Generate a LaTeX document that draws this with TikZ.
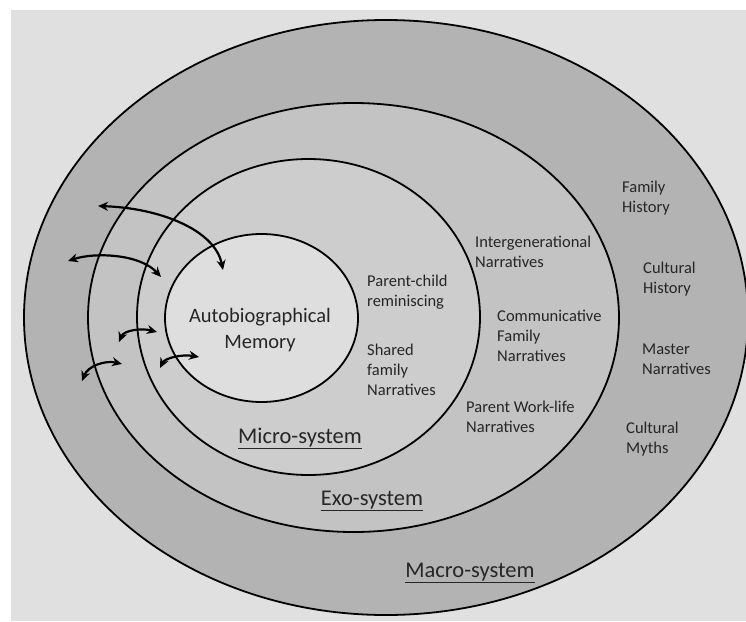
\documentclass[tikz,border=0pt]{standalone}
\usepackage{fontspec}
\setmainfont{Carlito}
\usetikzlibrary{arrows.meta}

\definecolor{bggrey}{HTML}{E0E0E0}
\definecolor{macrogrey}{HTML}{B3B3B3}
\definecolor{exogrey}{HTML}{C3C3C3}
\definecolor{microgrey}{HTML}{CDCDCD}
\definecolor{autogrey}{HTML}{DEDEDE}
\definecolor{txtgrey}{HTML}{262626}

\begin{document}
\begin{tikzpicture}[x=1pt,y=-1pt,
  ring/.style={draw=black, line width=1.8pt},
  lbl/.style={anchor=west, align=left, inner sep=0pt, text=txtgrey,
    font=\fontsize{16.5}{20}\selectfont},
  sysname/.style={anchor=base, inner sep=0pt, text=txtgrey,
    font=\fontsize{22.5}{27}\selectfont},
  link/.style={line width=2.2pt,
    {Stealth[length=10pt,width=9pt]}-{Stealth[length=10pt,width=9pt]}}]
\useasboundingbox (0,0) rectangle (746,621);
\fill [bggrey] (11,10) rectangle (746,621);

% the four systems
\draw [ring, fill=macrogrey] (386,317.5) ellipse [x radius=362pt, y radius=297.5pt];
\draw [ring, fill=exogrey] (353.5,317.5) ellipse [x radius=265.5pt, y radius=214.5pt];
\draw [ring, fill=microgrey] (308.5,317) ellipse [x radius=171.5pt, y radius=158pt];
\draw [ring, fill=autogrey] (261.5,318) ellipse [x radius=96.5pt, y radius=84pt];

\node (auto) [align=center, inner sep=0pt, text=txtgrey,
  font=\fontsize{20.5}{26}\selectfont] at (260,330) {Autobiographical\\Memory};

% micro-system
\node (reminisce) [lbl] at (367,292.5) {Parent-child\\reminiscing};
\node (shared) [lbl] at (367,370) {Shared\\family\\Narratives};
\node (micro) [sysname] at (300,443) {\underline{Micro-system}};

% exo-system
\node (intergen) [lbl] at (475,252) {Intergenerational\\Narratives};
\node (commun) [lbl] at (497,336) {Communicative\\Family\\Narratives};
\node (worklife) [lbl] at (466,416.5) {Parent Work-life\\Narratives};
\node (exo) [sysname] at (372,505) {\underline{Exo-system}};

% macro-system
\node (famhist) [lbl] at (622,198) {Family\\History};
\node (culthist) [lbl] at (643,279) {Cultural\\History};
\node (master) [lbl] at (642,359.5) {Master\\Narratives};
\node (myths) [lbl] at (626,439) {Cultural\\Myths};
\node (macro) [sysname] at (470,577) {\underline{Macro-system}};

% two-way links
\coordinate (l1a) at (98,206);  \coordinate (l1b) at (223,270);
\coordinate (l2a) at (68,261);  \coordinate (l2b) at (161,277);
\coordinate (l3a) at (119,342); \coordinate (l3b) at (157,332);
\coordinate (l4a) at (82,381);  \coordinate (l4b) at (122,364);
\coordinate (l5a) at (160,368); \coordinate (l5b) at (199,357);
\draw [link] (l1a) .. controls (160,208) and (215,230) .. (l1b);
\draw [link] (l2a) .. controls (95,252) and (140,254) .. (l2b);
\draw [link] (l3a) .. controls (124,330) and (142,328) .. (l3b);
\draw [link] (l4a) .. controls (88,366) and (105,360) .. (l4b);
\draw [link] (l5a) .. controls (165,358) and (182,354) .. (l5b);
\end{tikzpicture}
\end{document}
